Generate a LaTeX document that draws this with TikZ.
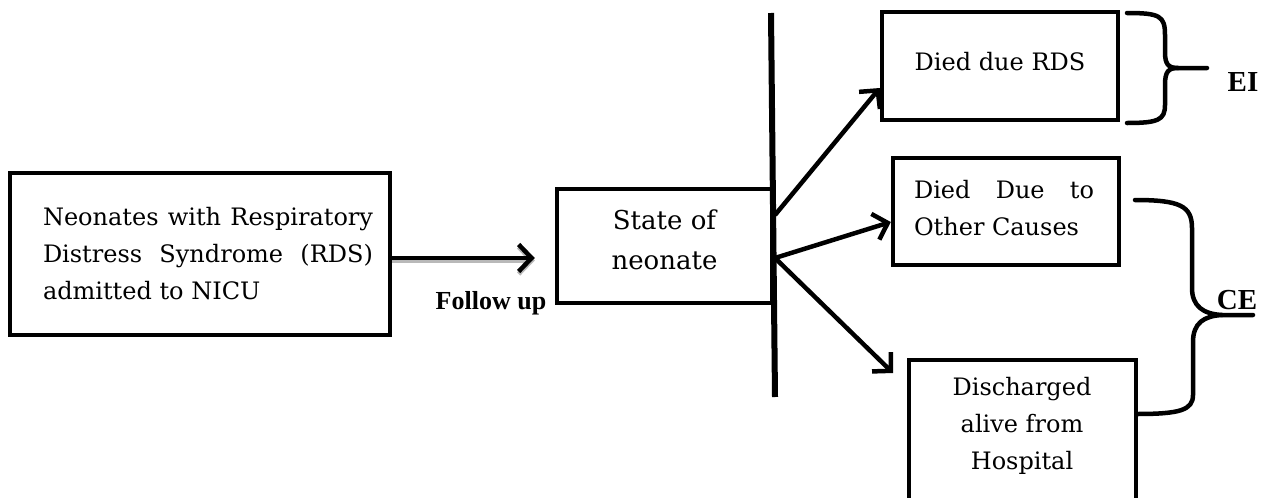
\documentclass[tikz,border=0pt]{standalone}
\usepackage{fontspec}
\setmainfont{DejaVu Serif}
\newfontfamily\tnr{Liberation Serif}
\usetikzlibrary{arrows.meta,calc}
\tikzset{
  box/.style={draw, line width=4.5pt, rectangle, inner sep=0pt, anchor=center},
  txt/.style={font=\fontsize{24}{37}\selectfont},
  arr/.style={line width=4.5pt, -{Straight Barb[length=13pt,width=27pt,line width=4.5pt]}},
  brace/.style={line width=4.5pt, line cap=round},
  lbl/.style={font=\tnr\bfseries\fontsize{29}{30}\selectfont, inner sep=0pt},
}
\begin{document}
\begin{tikzpicture}[x=1pt,y=-1pt]
\useasboundingbox (0,0) rectangle (1267,498);
% boxes
\node[box, minimum width=380pt, minimum height=162pt] (neo) at (200,254) {};
\node[txt, align=left] (neotxt) at (208,254) {\makebox[330pt][s]{Neonates with Respiratory}\\\makebox[330pt][s]{Distress Syndrome (RDS)}\\\makebox[330pt][l]{admitted to NICU}};
\node[box, minimum width=215pt, minimum height=114pt] (state) at (664.5,246) {};
\node[align=center, font=\fontsize{26}{40}\selectfont] (statetxt) at (664.5,240) {State of\\neonate};
\node[box, minimum width=236pt, minimum height=108pt] (rds) at (1000,66) {};
\node[txt] (rdstxt) at (1000,62) {Died due RDS};
\node[box, minimum width=226pt, minimum height=107pt] (other) at (1006,211.5) {};
\node[txt, align=left] (othertxt) at (1004,208) {\makebox[180pt][s]{Died Due to}\\\makebox[180pt][l]{Other Causes}};
\node[box, minimum width=227pt, minimum height=145pt] (dis) at (1022.5,432.5) {};
\node[txt, align=center] (distxt) at (1022,426) {Discharged\\alive from\\Hospital};
% follow up
\node[lbl, font=\tnr\bfseries\fontsize{26}{30}\selectfont] (fu) at (491,303) {Follow up};
% vertical bar
\coordinate (bartop) at (771,13);
\coordinate (barbot) at (775,397);
\draw[line width=6pt] (bartop) -- (barbot);
\coordinate (b1) at (775,215);
\coordinate (b2) at (775,258);
% main arrow with shadow
\draw[arr, draw=gray!55, transform canvas={yshift=-2.5pt}] ([yshift=-4pt]neo.east) -- ([xshift=-20pt,yshift=-12pt]state.west);
\draw[arr] ([yshift=-4pt]neo.east) -- ([xshift=-20pt,yshift=-12pt]state.west);
% branch arrows
\draw[arr] (b1) -- ([yshift=-22pt]rds.west);
\draw[arr] (b2) -- ([yshift=-10.5pt]other.west);
\coordinate (e3) at (893,373);
\draw[arr] (b2) -- (e3);
% EI brace
\coordinate (ei1) at (1127,13);
\coordinate (ei2) at (1127,123);
\coordinate (eip) at (1178,68);
\coordinate (eit) at (1207,68);
\draw[brace] (ei1) .. controls (1160,13) and (1165,16) .. (1165,35) -- (1165,52) .. controls (1165,64) and (1168,68) .. (eip) -- (eit);
\draw[brace] (eip) .. controls (1168,68) and (1165,72) .. (1165,85) -- (1165,105) .. controls (1165,120) and (1158,123) .. (ei2);
\node[lbl] (ei) at (1243,82) {EI};
% CE brace
\coordinate (ce1) at (1135,200);
\coordinate (ce2) at (1137,414);
\coordinate (cep) at (1222,315);
\coordinate (cet) at (1253,315);
\draw[brace] (ce1) .. controls (1180,200) and (1192,206) .. (1192,228) -- (1192,288) .. controls (1192,306) and (1203,314) .. (cep) -- (cet);
\draw[brace] (cep) .. controls (1204,316) and (1193,323) .. (1193,342) -- (1193,395) .. controls (1193,410) and (1180,414) .. (ce2);
\node[lbl] (ce) at (1237,300) {CE};
\end{tikzpicture}
\end{document}
